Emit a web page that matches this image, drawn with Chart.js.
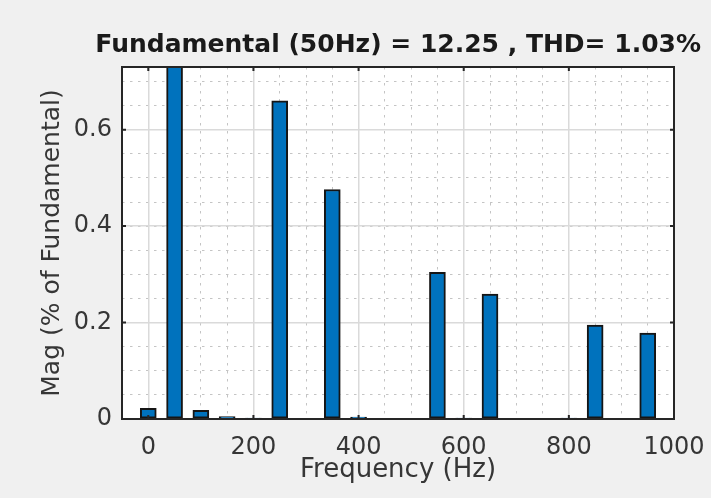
<!DOCTYPE html>
<html><head><meta charset="utf-8">
<script src="https://cdn.jsdelivr.net/npm/chart.js@4.4.0/dist/chart.umd.min.js"></script>
<style>html,body{margin:0;padding:0;background:#f0f0f0;} #wrap{width:711px;height:498px;}</style>
</head><body><div id="wrap"><canvas id="c" width="711" height="498"></canvas></div>
<script>
const chartTitle = 'Fundamental (50Hz) = 12.25 , THD= 1.03%';
const xAxisTitle = 'Frequency (Hz)';
const yAxisTitle = 'Mag (% of Fundamental)';
const frequencies = [0, 50, 100, 150, 200, 250, 300, 350, 400, 450, 500, 550, 600, 650, 700, 750, 800, 850, 900, 950];
const magnitudes  = [0.022, 100, 0.018, 0.005, 0.002, 0.66, 0.001, 0.476, 0.004, 0.001, 0.001, 0.304, 0.002, 0.259, 0.001, 0.001, 0.002, 0.195, 0.001, 0.178];
const xTickValues = [0, 200, 400, 600, 800, 1000];
const yTickValues = [0, 0.2, 0.4, 0.6];
const xRange = [-50, 1000];
const yRange = [0, 0.73];
const xMinorStep = 50;
const yMinorStep = 0.05;

const FONT = "'DejaVu Sans', 'Liberation Sans', Arial, sans-serif";
const TEXT = '#363636';
const FRAME = '#262626';

const framePlugin = {
  id: 'frame',
  beforeDraw(chart) {
    const {ctx, chartArea: a} = chart;
    ctx.save();
    ctx.fillStyle = '#f0f0f0';
    ctx.fillRect(0, 0, chart.width, chart.height);
    ctx.fillStyle = '#ffffff';
    ctx.fillRect(a.left, a.top, a.right - a.left, a.bottom - a.top);
    ctx.restore();
  },
  afterDatasetsDraw(chart) {
    const {ctx, chartArea: a, scales} = chart;
    ctx.save();
    ctx.strokeStyle = FRAME;
    ctx.lineWidth = 2;
    const tl = 4;
    ctx.beginPath();
    xTickValues.forEach(v => {
      const px = scales.x.getPixelForValue(v);
      ctx.moveTo(px, a.bottom); ctx.lineTo(px, a.bottom - tl);
      ctx.moveTo(px, a.top); ctx.lineTo(px, a.top + tl);
    });
    yTickValues.forEach(v => {
      const py = scales.y.getPixelForValue(v);
      ctx.moveTo(a.left, py); ctx.lineTo(a.left + tl, py);
      ctx.moveTo(a.right, py); ctx.lineTo(a.right - tl, py);
    });
    ctx.stroke();
    ctx.strokeRect(a.left, a.top, a.right - a.left, a.bottom - a.top);
    ctx.restore();
  }
};

function noPad(s) { s.paddingLeft = 0; s.paddingRight = 0; s.paddingTop = 0; s.paddingBottom = 0; }

new Chart(document.getElementById('c'), {
  type: 'bar',
  data: {
    datasets: [{
      data: frequencies.map((f, i) => ({x: f, y: magnitudes[i]})),
      backgroundColor: '#0072BD',
      borderColor: '#151515',
      borderWidth: 2,
      borderSkipped: false,
      barThickness: 16,
      xAxisID: 'x',
      yAxisID: 'y'
    }]
  },
  options: {
    responsive: false,
    animation: false,
    events: [],
    layout: {padding: {top: 0, right: 10, bottom: 0, left: 0}},
    plugins: {
      legend: {display: false},
      tooltip: {enabled: false},
      title: {
        display: true,
        text: chartTitle,
        fullSize: true,
        align: 'end',
        color: '#1a1a1a',
        font: {family: FONT, size: 25, weight: 'bold', lineHeight: 1.2},
        padding: {top: 30, bottom: 7}
      }
    },
    scales: {
      xMinor: {
        type: 'linear', position: 'bottom', min: xRange[0], max: xRange[1], offset: false,
        ticks: {display: false, stepSize: xMinorStep},
        grid: {display: true, drawTicks: false, offset: false, color: '#c4c4c4', lineWidth: 1, z: -2},
        border: {display: false, dash: [2.5, 5.5]},
        afterFit: s => { s.height = 0; noPad(s); }
      },
      yMinor: {
        type: 'linear', position: 'left', min: yRange[0], max: yRange[1],
        ticks: {display: false, stepSize: yMinorStep},
        grid: {display: true, drawTicks: false, color: '#c4c4c4', lineWidth: 1, z: -2},
        border: {display: false, dash: [2.5, 5.5]},
        afterFit: s => { s.width = 0; noPad(s); }
      },
      yRight: {
        type: 'linear', position: 'right', min: yRange[0], max: yRange[1],
        ticks: {display: false},
        grid: {display: false, drawTicks: false},
        border: {display: false},
        afterFit: s => { s.width = 27; noPad(s); }
      },
      x: {
        type: 'linear', position: 'bottom', min: xRange[0], max: xRange[1], offset: false,
        afterBuildTicks: s => { s.ticks = xTickValues.map(v => ({value: v})); },
        ticks: {color: TEXT, font: {family: FONT, size: 24}, padding: 14, maxRotation: 0, autoSkip: false,
                callback: v => String(v)},
        grid: {display: true, drawTicks: false, offset: false, color: '#dadada', lineWidth: 1.5},
        border: {display: false},
        title: {display: true, text: xAxisTitle, color: TEXT, font: {family: FONT, size: 26},
                padding: {top: 0, bottom: 12}},
        afterFit: s => { s.height = 79; noPad(s); }
      },
      y: {
        type: 'linear', position: 'left', min: yRange[0], max: yRange[1],
        afterBuildTicks: s => { s.ticks = yTickValues.map(v => ({value: v})); },
        ticks: {color: TEXT, font: {family: FONT, size: 24}, padding: 10, autoSkip: false,
                callback: v => String(v)},
        grid: {display: true, drawTicks: false, color: '#dadada', lineWidth: 1.5},
        border: {display: false},
        title: {display: true, text: yAxisTitle, color: TEXT, font: {family: FONT, size: 25},
                padding: {top: 37, bottom: 0}},
        afterFit: s => { s.width = 122; noPad(s); }
      }
    }
  },
  plugins: [framePlugin]
});
</script>
</body></html>
